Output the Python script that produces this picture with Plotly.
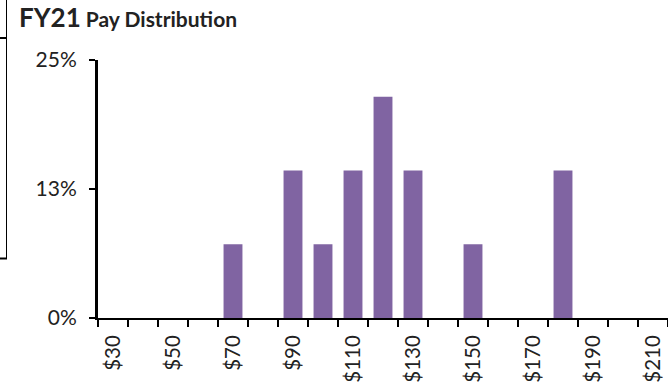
import plotly.graph_objects as go

# Pay bands (in $K) and share of employees in each band
pay_bands = [30, 40, 50, 60, 70, 80, 90, 100, 110, 120, 130, 140, 150, 160, 170, 180, 190, 200, 210]
share = [0, 0, 0, 0, 0.0714, 0, 0.1429, 0.0714, 0.1429, 0.2143, 0.1429, 0, 0.0714, 0, 0, 0.1429, 0, 0, 0]

label_bands = [30, 50, 70, 90, 110, 130, 150, 170, 190, 210]
label_text = ["$" + str(v) for v in label_bands]

y_ticks = [0, 0.125, 0.25]
y_tick_text = ["0%", "13%", "25%"]

FONT = "Lato"
TEXT = "#222222"

fig = go.Figure(
    go.Bar(
        x=pay_bands,
        y=share,
        width=6.3,
        marker=dict(color="#8064A2", line=dict(width=0)),
        hoverinfo="skip",
    )
)

fig.update_layout(
    width=668,
    height=382,
    margin=dict(l=98, r=0, t=60, b=64),
    paper_bgcolor="white",
    plot_bgcolor="white",
    showlegend=False,
    font=dict(family=FONT, color=TEXT),
)

fig.update_xaxes(
    type="linear",
    range=[25, 215],
    tickmode="array",
    tickvals=label_bands,
    ticktext=label_text,
    tickangle=-90,
    ticks="outside",
    ticklen=7,
    tickcolor="rgba(0,0,0,0)",
    tickfont=dict(family=FONT, size=20.5, color=TEXT),
    showline=True,
    linecolor="black",
    linewidth=2,
    showgrid=False,
    zeroline=False,
    minor=dict(
        tickmode="linear",
        tick0=25,
        dtick=10,
        ticks="outside",
        ticklen=7,
        tickwidth=2,
        tickcolor="black",
        showgrid=False,
    ),
)

fig.update_yaxes(
    range=[0, 0.25],
    tickmode="array",
    tickvals=y_ticks,
    ticktext=y_tick_text,
    ticks="outside",
    ticklen=6,
    tickwidth=2,
    tickcolor="black",
    ticklabelstandoff=8,
    tickfont=dict(family=FONT, size=21, color=TEXT),
    showline=True,
    linecolor="black",
    linewidth=3,
    showgrid=False,
    zeroline=False,
)

# Pixel helpers relative to the plot area
plot_w, plot_h = 570, 258


def px_x(p):
    return (p - 98) / plot_w


def px_y(p):
    return (318 - p) / plot_h


# Chart heading
fig.add_annotation(
    text="<b><span style='font-size:26px'>FY21</span> Pay Distribution</b>",
    font=dict(family=FONT, size=21, color=TEXT),
    xref="paper", yref="paper",
    x=px_x(17), xanchor="left",
    y=px_y(17), yanchor="middle",
    showarrow=False,
)

# Border fragment along the left edge of the page
edge = dict(color="black")
fig.add_shape(type="line", xref="paper", yref="paper",
              x0=px_x(6.5), x1=px_x(6.5), y0=px_y(0), y1=px_y(259),
              line=dict(width=1, **edge))
fig.add_shape(type="line", xref="paper", yref="paper",
              x0=px_x(0), x1=px_x(7), y0=px_y(38), y1=px_y(38),
              line=dict(width=2, **edge))
fig.add_shape(type="line", xref="paper", yref="paper",
              x0=px_x(0), x1=px_x(7), y0=px_y(258.5), y1=px_y(258.5),
              line=dict(width=2, **edge))

fig.write_html("out.html")
